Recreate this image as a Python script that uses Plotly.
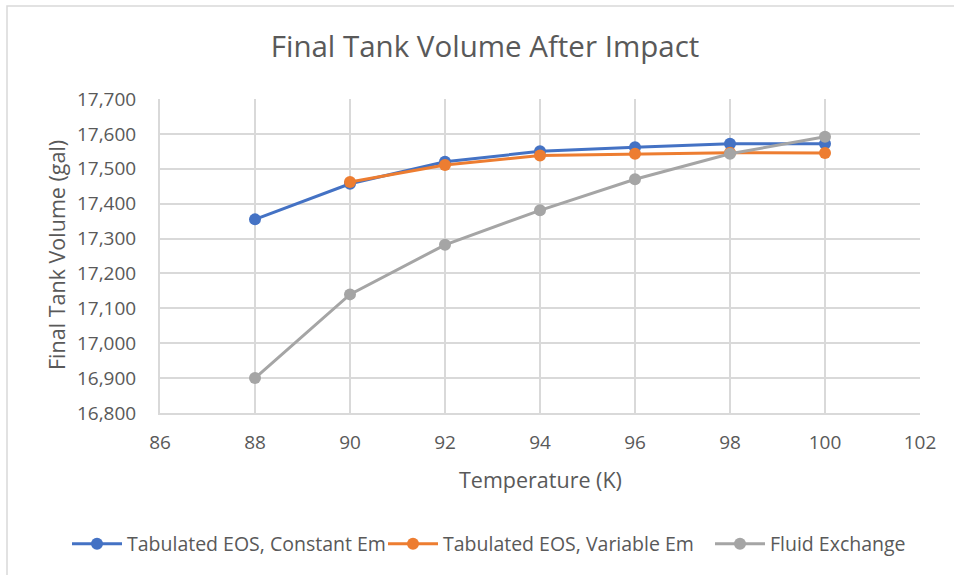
import plotly.graph_objects as go

# Temperatures (K)
temperature = [88, 90, 92, 94, 96, 98, 100]
temperature_var = [90, 92, 94, 96, 98, 100]

# Final tank volume (gal)
vol_const_em = [17355, 17457, 17520, 17550, 17562, 17572, 17572]
vol_var_em = [17462, 17511, 17538, 17543, 17546, 17545]
vol_fluid_exchange = [16900, 17140, 17282, 17381, 17470, 17543, 17592]

series_names = ["Tabulated EOS, Constant Em", "Tabulated EOS, Variable Em", "Fluid Exchange"]
series_colors = ["#4472C4", "#ED7D31", "#A5A5A5"]

FONT = "Open Sans"
TEXT = "#595959"
GRID = "#D9D9D9"

W, H = 954, 575
L, R, T, B = 160, 920, 99, 413

# one legend box per series, laid out in a row under the axis title
legend_ids = ["legend", "legend2", "legend3"]
legend_left_px = [67, 383, 710]

fig = go.Figure()
for xs, ys, name, color, lid in [
    (temperature, vol_const_em, series_names[0], series_colors[0], legend_ids[0]),
    (temperature_var, vol_var_em, series_names[1], series_colors[1], legend_ids[1]),
    (temperature, vol_fluid_exchange, series_names[2], series_colors[2], legend_ids[2]),
]:
    fig.add_trace(go.Scatter(
        x=xs, y=ys, name=name, mode="lines+markers",
        line=dict(color=color, width=3),
        marker=dict(color=color, size=12),
        legend=lid,
    ))

legend_style = dict(
    xref="container", yref="container",
    y=1 - 544 / H, xanchor="left", yanchor="middle",
    font=dict(size=19.5, color=TEXT, family=FONT),
    itemwidth=50, bgcolor="rgba(0,0,0,0)",
)

fig.update_layout(
    width=W, height=H,
    margin=dict(l=L, r=W - R, t=T, b=H - B, autoexpand=False),
    paper_bgcolor="white", plot_bgcolor="white",
    font=dict(family=FONT, color=TEXT, size=19),
    title=dict(
        text="Final Tank Volume After Impact",
        font=dict(size=29.5, color=TEXT, family=FONT),
        xref="container", yref="container",
        x=485 / W, y=1 - 47 / H, xanchor="center", yanchor="middle",
    ),
    showlegend=True,
    legend=dict(x=legend_left_px[0] / W, **legend_style),
    legend2=dict(x=legend_left_px[1] / W, **legend_style),
    legend3=dict(x=legend_left_px[2] / W, **legend_style),
    shapes=[
        # chart area border
        dict(type="rect", xref="paper", yref="paper",
             x0=(7 - L) / (R - L), x1=(W + 20 - L) / (R - L),
             y0=(B - (H + 20)) / (B - T), y1=(B - 6) / (B - T),
             line=dict(color=GRID, width=1.5), layer="below"),
    ],
)

fig.update_xaxes(
    range=[86, 102], dtick=2, tick0=86,
    showgrid=True, gridcolor=GRID, gridwidth=2,
    showline=True, linecolor=GRID, linewidth=2, mirror=False,
    zeroline=False, ticks="", ticklabelstandoff=11,
    tickfont=dict(size=19, color=TEXT),
)
fig.update_yaxes(
    range=[16800, 17700], dtick=100, tick0=16800,
    tickformat=",d",
    showgrid=True, gridcolor=GRID, gridwidth=2,
    showline=True, linecolor=GRID, linewidth=2,
    zeroline=False, ticks="", ticklabelstandoff=18,
    tickfont=dict(size=19, color=TEXT),
)

fig.add_annotation(
    text="Temperature (K)", xref="paper", yref="paper",
    x=(540 - L) / (R - L), y=(B - 479) / (B - T),
    xanchor="center", yanchor="middle", showarrow=False,
    font=dict(size=21.5, color=TEXT, family=FONT),
)
fig.add_annotation(
    text="Final Tank Volume (gal)", xref="paper", yref="paper",
    x=(56 - L) / (R - L), y=(B - 255) / (B - T),
    xanchor="center", yanchor="middle", showarrow=False, textangle=-90,
    font=dict(size=21.5, color=TEXT, family=FONT),
)

fig.write_html("out.html")
